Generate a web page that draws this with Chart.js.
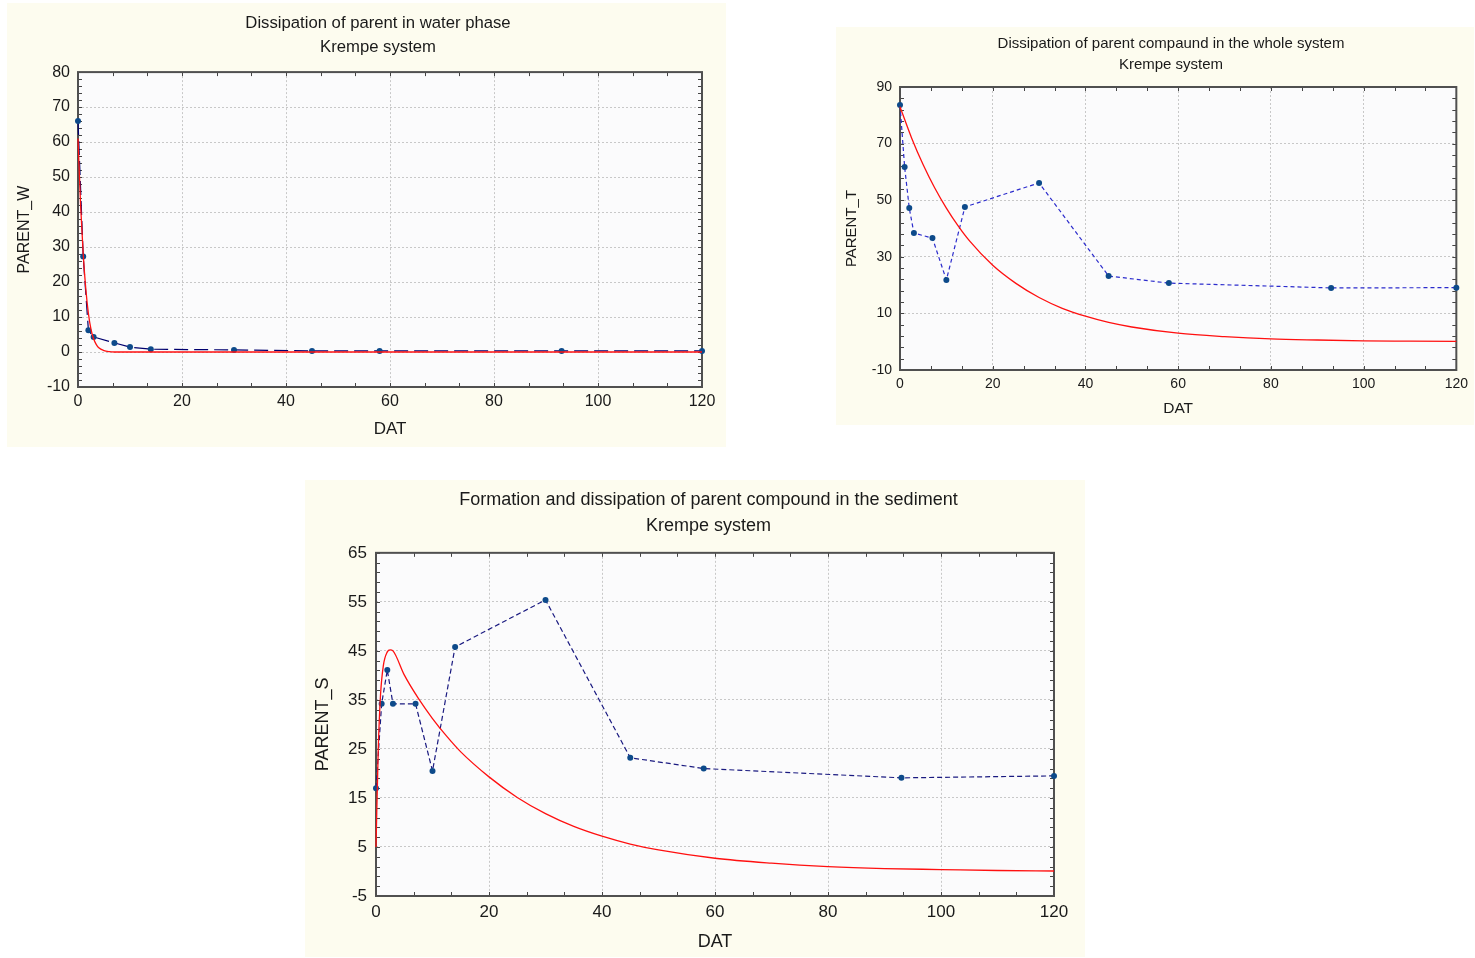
<!DOCTYPE html>
<html>
<head>
<meta charset="utf-8">
<script src="https://cdn.jsdelivr.net/npm/chart.js@4.4.1/dist/chart.umd.min.js"></script>
<style>
  body { margin: 0; background: #fff; width: 1475px; height: 958px; position: relative; overflow: hidden; }
  .panel { position: absolute; background: #fdfcef; }
  .panel canvas { display: block; }
</style>
</head>
<body>
<div class="panel" style="left:7px;top:3px"><canvas id="water" width="719" height="444"></canvas></div>
<div class="panel" style="left:836px;top:27px"><canvas id="total" width="638" height="398"></canvas></div>
<div class="panel" style="left:305px;top:480px"><canvas id="sediment" width="780" height="477"></canvas></div>

<script>
// sampling days (DAT) and measured residues
const dat = [0, 1, 2, 3, 7, 10, 14, 30, 45, 58, 93, 120];
const parentW = [66, 27.3, 6.2, 4.3, 2.6, 1.4, 0.8, 0.6, 0.3, 0.3, 0.3, 0.3];
const parentT = [83.6, 61.7, 47.2, 38.4, 36.6, 21.8, 47.6, 56.1, 23.2, 20.7, 19, 19.1];
const parentS = [17, 34.2, 41.1, 34.2, 34.2, 20.5, 45.8, 55.4, 23.2, 21, 19.1, 19.5];

// fitted curves, read at these days
const fitDatW = [0, 0.5, 1, 1.5, 2, 2.5, 3, 3.5, 4, 5, 6, 7, 120];
const fitW = [61, 42, 28, 18, 11, 6.5, 3.8, 2.2, 1.2, 0.4, 0.1, 0, 0];

const fitDatT = [0, 2.5, 5, 7.5, 10, 12.5, 15, 20, 25, 30, 35, 40, 45, 50, 60, 70, 80, 90, 100, 110, 120];
const fitT = [83, 72, 62.5, 54.3, 47.2, 41, 35.6, 27, 20.6, 15.6, 11.8, 9, 6.8, 5.2, 3, 1.8, 1, 0.6, 0.3, 0.2, 0.1];

const fitDatS = [0, 0.4, 0.8, 1.3, 2, 2.5, 3, 5, 7.5, 10, 12.5, 15, 20, 25, 30, 35, 40, 45, 50, 60, 70, 80, 90, 100, 110, 120];
const fitS = [5, 25, 36, 42, 44.8, 45.2, 45, 40.1, 35.3, 31.2, 27.6, 24.4, 19.3, 15.1, 11.8, 9.2, 7.2, 5.6, 4.4, 2.7, 1.7, 1, 0.6, 0.4, 0.2, 0.1];

const FONT = "'Liberation Sans', Arial, sans-serif";
const pts = (xs, ys) => xs.map((x, i) => ({ x: x, y: ys[i] }));

// plot background, frame on all four sides and minor ticks
const plotFrame = {
  id: 'plotFrame',
  afterLayout(chart, args, opts) {
    // nudge the two-line heading sideways
    const t = chart.titleBlock;
    if (t) { t.left += opts.titleShift; t.right += opts.titleShift; }
  },
  beforeDraw(chart) {
    const { ctx, chartArea: a } = chart;
    ctx.save();
    ctx.fillStyle = '#fbfbfc';
    ctx.fillRect(a.left, a.top, a.right - a.left, a.bottom - a.top);
    ctx.restore();
  },
  beforeDatasetsDraw(chart, args, opts) {
    const { ctx, chartArea: a } = chart;
    const xs = chart.scales.x, ys = chart.scales.y;
    ctx.save();
    ctx.strokeStyle = '#444';
    ctx.lineWidth = 1;
    ctx.beginPath();
    const xStep = xs.options.ticks.stepSize / opts.xDiv;
    for (let i = 0; xs.min + i * xStep <= xs.max + 1e-6; i++) {
      const px = Math.round(xs.getPixelForValue(xs.min + i * xStep)) + 0.5;
      ctx.moveTo(px, a.bottom); ctx.lineTo(px, a.bottom - 4);
      ctx.moveTo(px, a.top); ctx.lineTo(px, a.top + 4);
    }
    const yStep = ys.options.ticks.stepSize / opts.yDiv;
    for (let i = 0; ys.min + i * yStep <= ys.max + 1e-6; i++) {
      const py = Math.round(ys.getPixelForValue(ys.min + i * yStep)) + 0.5;
      ctx.moveTo(a.left, py); ctx.lineTo(a.left + 4, py);
      ctx.moveTo(a.right, py); ctx.lineTo(a.right - 4, py);
    }
    ctx.stroke();
    ctx.lineWidth = 2;
    ctx.strokeStyle = '#505050';
    ctx.strokeRect(a.left, a.top, a.right - a.left, a.bottom - a.top);
    ctx.restore();
  }
};

function makeChart(id, o) {
  return new Chart(document.getElementById(id), {
    type: 'line',
    data: {
      datasets: [{
        data: pts(o.fitX, o.fitY),
        borderColor: '#ff1010',
        borderWidth: 1.3,
        pointRadius: 0,
        cubicInterpolationMode: 'monotone',
        clip: 2
      }, {
        data: pts(dat, o.values),
        borderColor: o.lineColor,
        borderWidth: 1.2,
        borderDash: o.dash,
        pointRadius: 3,
        pointBackgroundColor: '#0d4a8a',
        pointBorderWidth: 0,
        clip: false
      }]
    },
    options: {
      responsive: false,
      animation: false,
      layout: { padding: { left: 0, right: o.padRight, top: 0, bottom: 0 } },
      plugins: {
        legend: { display: false },
        tooltip: { enabled: false },
        title: {
          display: true,
          text: o.title,
          color: '#1a1a1a',
          font: { family: FONT, size: o.titleSize, weight: 'normal', lineHeight: o.titleLH },
          padding: o.titlePad
        },
        plotFrame: { xDiv: 3, yDiv: o.yDiv, titleShift: o.titleShift }
      },
      scales: {
        x: {
          type: 'linear',
          min: 0, max: 120,
          ticks: { stepSize: 20, color: '#1a1a1a', padding: o.xTickPad, font: { family: FONT, size: o.tickSize } },
          grid: { color: '#c8c8c8', drawTicks: false },
          border: { display: false, dash: [2, 2] },
          title: { display: true, text: 'DAT', color: '#1a1a1a', font: { family: FONT, size: o.xTitleSize }, padding: { top: 0, bottom: o.xTitlePad } },
          afterFit: s => { s.height = o.xHeight; }
        },
        y: {
          min: o.yMin, max: o.yMax,
          ticks: { stepSize: o.yStep, color: '#1a1a1a', padding: o.yTickPad, font: { family: FONT, size: o.tickSize } },
          grid: { color: '#c8c8c8', drawTicks: false },
          border: { display: false, dash: [2, 2] },
          title: { display: true, text: o.yTitle, color: '#1a1a1a', font: { family: FONT, size: o.yTitleSize }, padding: { top: o.yTitlePad, bottom: 0 } },
          afterFit: s => { s.width = o.yWidth; }
        }
      }
    },
    plugins: [plotFrame]
  });
}

makeChart('water', {
  title: ['Dissipation of parent in water phase', 'Krempe system'],
  titleSize: 16.7, titleLH: 1.44, titlePad: { top: 8, bottom: 13 }, titleShift: 23.5,
  fitX: fitDatW, fitY: fitW, values: parentW,
  lineColor: '#00006e', dash: [14, 6],
  yMin: -10, yMax: 80, yStep: 10, yDiv: 5, yTitle: 'PARENT_W',
  tickSize: 16, xTitleSize: 17, yTitleSize: 16,
  padRight: 24, yWidth: 71, xHeight: 60,
  xTickPad: 5, yTickPad: 8, xTitlePad: 7, yTitlePad: 8
});

makeChart('total', {
  title: ['Dissipation of parent compaund in the whole system', 'Krempe system'],
  titleSize: 15, titleLH: 1.4, titlePad: { top: 6, bottom: 12 }, titleShift: 23.5,
  fitX: fitDatT, fitY: fitT, values: parentT,
  lineColor: '#2b2bcc', dash: [4, 3],
  yMin: -10, yMax: 90, yStep: 20, yDiv: 5, yTitle: 'PARENT_T',
  tickSize: 14, xTitleSize: 15.5, yTitleSize: 15,
  padRight: 15, yWidth: 64, xHeight: 55,
  xTickPad: 6, yTickPad: 8, xTitlePad: 7, yTitlePad: 7
});

makeChart('sediment', {
  title: ['Formation and dissipation of parent compound in the sediment', 'Krempe system'],
  titleSize: 18, titleLH: 1.44, titlePad: { top: 7, bottom: 14 }, titleShift: 29,
  fitX: fitDatS, fitY: fitS, values: parentS,
  lineColor: '#1a1a80', dash: [5, 3],
  yMin: -5, yMax: 65, yStep: 10, yDiv: 5, yTitle: 'PARENT_S',
  tickSize: 17, xTitleSize: 18, yTitleSize: 18,
  padRight: 31, yWidth: 71, xHeight: 61,
  xTickPad: 6, yTickPad: 9, xTitlePad: 4, yTitlePad: 7
});
</script>
</body>
</html>
